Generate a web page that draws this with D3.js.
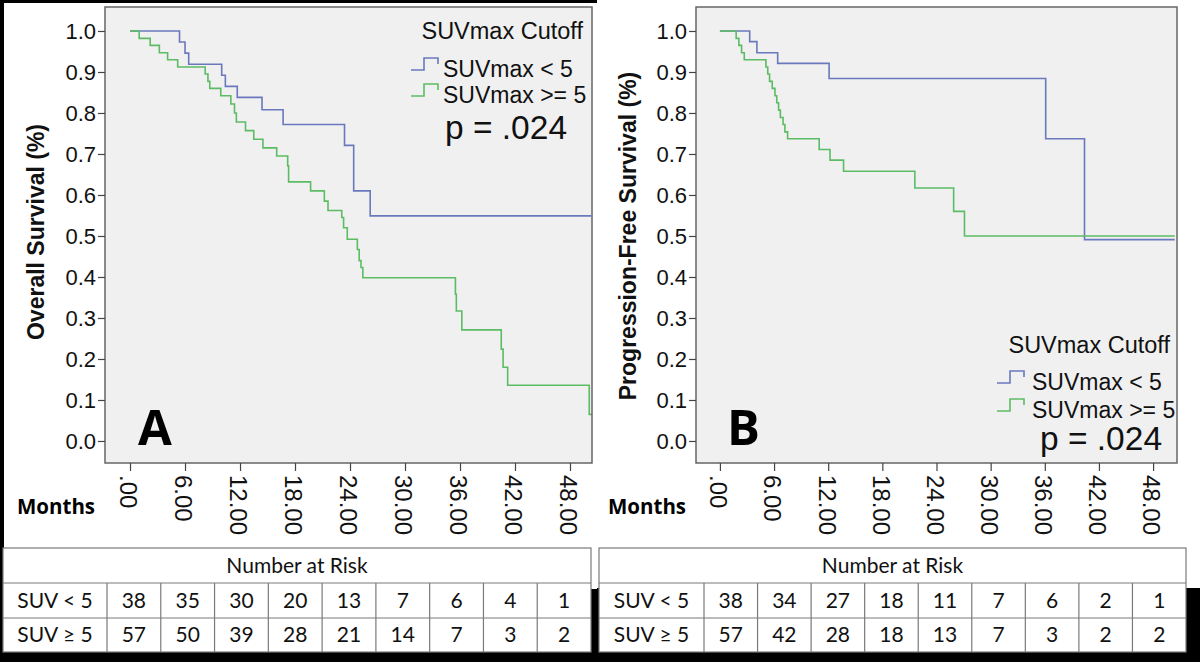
<!DOCTYPE html>
<html><head><meta charset="utf-8">
<script src="https://cdn.jsdelivr.net/npm/d3@7"></script>
<style>html,body{margin:0;padding:0;background:#000;} svg{display:block}</style>
</head><body><svg id="c" width="1200" height="662"></svg>
<script>
// ---------------- data ----------------
const tickMonths = [0, 6, 12, 18, 24, 30, 36, 42, 48];
const tickLabels = [".00", "6.00", "12.00", "18.00", "24.00", "30.00", "36.00", "42.00", "48.00"];
const yTicks = [0, 0.1, 0.2, 0.3, 0.4, 0.5, 0.6, 0.7, 0.8, 0.9, 1.0];
const yTickLabels = ["0.0", "0.1", "0.2", "0.3", "0.4", "0.5", "0.6", "0.7", "0.8", "0.9", "1.0"];
const seriesNames = ["SUVmax < 5", "SUVmax >= 5"];
const legendTitle = "SUVmax Cutoff";
const pValueText = "p = .024";

// Panel A: overall survival
const osLowTime  = [0, 5.4, 6.0, 6.4, 10.0, 10.4, 11.7, 14.4, 16.7, 23.4, 24.4, 26.2, 50.3];
const osLowSurv  = [1.0, 0.973, 0.946, 0.919, 0.892, 0.865, 0.838, 0.808, 0.772, 0.721, 0.61, 0.549, 0.549];
const osHighTime = [0, 1.0, 2.2, 3.2, 4.1, 5.2, 8.2, 8.5, 8.7, 9.9, 11.0, 11.4, 11.6, 12.6, 13.5, 14.5, 16.0, 17.2, 17.3, 19.7, 21.2, 21.6, 23.1, 23.3, 23.7, 24.8, 25.0, 25.2, 25.4, 35.5, 35.6, 36.2, 40.5, 40.7, 41.2, 50.1, 50.4];
const osHighSurv = [1.0, 0.982, 0.965, 0.947, 0.93, 0.912, 0.895, 0.877, 0.86, 0.842, 0.822, 0.80, 0.778, 0.757, 0.736, 0.715, 0.695, 0.671, 0.632, 0.61, 0.585, 0.562, 0.545, 0.52, 0.492, 0.467, 0.44, 0.423, 0.398, 0.358, 0.317, 0.271, 0.224, 0.18, 0.136, 0.065, 0.065];

// Panel B: progression-free survival
const pfsLowTime  = [0, 3.3, 4.1, 6.4, 12.1, 36.1, 40.4, 50.4];
const pfsLowSurv  = [1.0, 0.974, 0.947, 0.921, 0.884, 0.737, 0.491, 0.491];
const pfsHighTime = [0, 1.8, 2.1, 2.4, 2.7, 5.1, 5.3, 5.5, 5.8, 6.1, 6.3, 6.5, 6.7, 7.0, 7.2, 7.5, 11.0, 12.2, 13.7, 21.6, 25.9, 27.1, 50.4];
const pfsHighSurv = [1.0, 0.982, 0.965, 0.947, 0.93, 0.912, 0.895, 0.877, 0.86, 0.842, 0.825, 0.807, 0.789, 0.772, 0.754, 0.737, 0.711, 0.685, 0.658, 0.617, 0.56, 0.50, 0.50];

// Number at risk tables
const riskTitle = "Number at Risk";
const riskRowLabels = ["SUV < 5", "SUV \u2265 5"];
const osRiskLow   = [38, 35, 30, 20, 13, 7, 6, 4, 1];
const osRiskHigh  = [57, 50, 39, 28, 21, 14, 7, 3, 2];
const pfsRiskLow  = [38, 34, 27, 18, 11, 7, 6, 2, 1];
const pfsRiskHigh = [57, 42, 28, 18, 13, 7, 3, 2, 2];

// ---------------- styles ----------------
const COLORS = ["#6a78bd", "#5cbc64"];
const AXF = "'Liberation Sans', Arial, sans-serif";
const BOLDF = "'Open Sans', sans-serif";
const TABF = "Lato, 'Open Sans', sans-serif";

const svg = d3.select("#c");
svg.append("rect").attr("width", 1200).attr("height", 662).attr("fill", "#000");

const zip = (t, s) => t.map((v, i) => [v, s[i]]);

const panels = [
  {
    img: {x: 4, y: 3, w: 593, h: 586},
    plot: {l: 105, r: 592, t: 7, b: 463},
    xDom: [-2.73, 50.4], yDom: [-0.0537, 1.0585],
    yLabel: "Overall Survival (%)", yLabelX: 36, yLabelY: 232,
    letter: "A", letterX: 138, monthsX: 17,
    legend: {titleRight: 583, titleY: 39, itemX: 443, itemY: [77, 103], symX: 411, pX: 445, pY: 139},
    series: [zip(osLowTime, osLowSurv), zip(osHighTime, osHighSurv)],
    table: {x0: 3, x1: 591, labelW: 104, rows: [osRiskLow, osRiskHigh]}
  },
  {
    img: {x: 597, y: 0, w: 603, h: 588},
    plot: {l: 696, r: 1177, t: 7, b: 463},
    xDom: [-2.65, 50.65], yDom: [-0.0537, 1.0585],
    yLabel: "Progression-Free Survival (%)", yLabelX: 628, yLabelY: 236,
    letter: "B", letterX: 727, monthsX: 608,
    legend: {titleRight: 1170, titleY: 353, itemX: 1032, itemY: [390, 418], symX: 997, pX: 1040, pY: 450},
    series: [zip(pfsLowTime, pfsLowSurv), zip(pfsHighTime, pfsHighSurv)],
    table: {x0: 599, x1: 1186, labelW: 105, rows: [pfsRiskLow, pfsRiskHigh]}
  }
];

panels.forEach(P => {
  const g = svg.append("g");
  g.append("rect").attr("x", P.img.x).attr("y", P.img.y).attr("width", P.img.w).attr("height", P.img.h).attr("fill", "#fff");

  const xs = d3.scaleLinear().domain(P.xDom).range([P.plot.l, P.plot.r]);
  const ys = d3.scaleLinear().domain(P.yDom).range([P.plot.b, P.plot.t]);

  // plot background
  g.append("rect").attr("x", P.plot.l).attr("y", P.plot.t)
    .attr("width", P.plot.r - P.plot.l).attr("height", P.plot.b - P.plot.t)
    .attr("fill", "#f0f0f0");

  // curves
  const line = d3.line().x(d => xs(d[0])).y(d => ys(d[1])).curve(d3.curveStepAfter);
  P.series.forEach((s, i) => {
    g.append("path").datum(s).attr("d", line).attr("fill", "none")
      .attr("stroke", COLORS[i]).attr("stroke-width", 1.6);
  });

  // frame
  g.append("rect").attr("x", P.plot.l).attr("y", P.plot.t)
    .attr("width", P.plot.r - P.plot.l).attr("height", P.plot.b - P.plot.t)
    .attr("fill", "none").attr("stroke", "#666").attr("stroke-width", 1.5);

  // y axis
  const ya = g.append("g").attr("transform", `translate(${P.plot.l},0)`)
    .call(d3.axisLeft(ys).tickValues(yTicks).tickFormat((d, i) => yTickLabels[i]).tickSize(7).tickPadding(2));
  ya.select(".domain").remove();
  ya.selectAll("line").attr("stroke", "#444").attr("stroke-width", 1.2);
  ya.selectAll("text").attr("font-family", AXF).attr("font-size", 22).attr("fill", "#111").attr("dy", "0.36em");

  // x axis
  const xa = g.append("g").attr("transform", `translate(0,${P.plot.b})`)
    .call(d3.axisBottom(xs).tickValues(tickMonths).tickFormat((d, i) => tickLabels[i]).tickSize(8));
  xa.select(".domain").remove();
  xa.selectAll("line").attr("stroke", "#444").attr("stroke-width", 1.2);
  xa.selectAll("text").attr("font-family", AXF).attr("font-size", 24).attr("fill", "#111")
    .attr("x", 0).attr("y", 0).attr("dy", "0.42em")
    .attr("text-anchor", "start")
    .attr("transform", "translate(0,12) rotate(90)");

  // y label
  g.append("text").attr("transform", `translate(${P.yLabelX},${P.yLabelY}) rotate(-90)`)
    .attr("text-anchor", "middle").attr("dy", "0.35em")
    .attr("font-family", AXF).attr("font-weight", "bold").attr("font-size", 23).attr("fill", "#111")
    .text(P.yLabel);

  // Months
  g.append("text").attr("x", P.monthsX).attr("y", 514)
    .attr("font-family", BOLDF).attr("font-weight", "bold").attr("font-size", 20.5).attr("fill", "#000")
    .text("Months");

  // panel letter
  g.append("text").attr("x", P.letterX).attr("y", 445)
    .attr("font-family", BOLDF).attr("font-weight", "bold").attr("font-size", 49).attr("fill", "#000")
    .text(P.letter);

  // legend
  const L = P.legend;
  g.append("text").attr("x", L.titleRight).attr("y", L.titleY).attr("text-anchor", "end")
    .attr("font-family", AXF).attr("font-size", 23.5).attr("fill", "#111").text(legendTitle);
  seriesNames.forEach((name, i) => {
    const by = L.itemY[i];
    const sx = L.symX;
    g.append("path")
      .attr("d", `M${sx},${by - 7}H${sx + 13}V${by - 19}H${sx + 27}V${by - 13}`)
      .attr("fill", "none").attr("stroke", COLORS[i]).attr("stroke-width", 1.6);
    g.append("text").attr("x", L.itemX).attr("y", by)
      .attr("font-family", AXF).attr("font-size", 23).attr("fill", "#111").text(name);
  });
  g.append("text").attr("x", L.pX).attr("y", L.pY)
    .attr("font-family", AXF).attr("font-size", 33.5).attr("fill", "#111").text(pValueText);

  // table
  const T = P.table;
  const rowY = [548, 583, 618, 652];
  const tg = svg.append("g");
  tg.append("rect").attr("x", T.x0).attr("y", rowY[0]).attr("width", T.x1 - T.x0).attr("height", rowY[3] - rowY[0])
    .attr("fill", "#fff").attr("stroke", "#7a7a7a").attr("stroke-width", 1.2);
  const colX = d3.scaleLinear().domain([0, T.rows[0].length]).range([T.x0 + T.labelW, T.x1]);
  [1, 2].forEach(r => tg.append("line").attr("x1", T.x0).attr("x2", T.x1).attr("y1", rowY[r]).attr("y2", rowY[r])
    .attr("stroke", "#7a7a7a").attr("stroke-width", 1.2));
  d3.range(0, T.rows[0].length).forEach(c => tg.append("line").attr("x1", colX(c)).attr("x2", colX(c))
    .attr("y1", rowY[1]).attr("y2", rowY[3]).attr("stroke", "#7a7a7a").attr("stroke-width", 1.2));
  tg.append("text").attr("x", (T.x0 + T.x1) / 2).attr("y", (rowY[0] + rowY[1]) / 2).attr("dy", "0.35em")
    .attr("text-anchor", "middle").attr("font-family", TABF).attr("font-size", 21).attr("fill", "#111").text(riskTitle);
  T.rows.forEach((row, r) => {
    const cy = (rowY[r + 1] + rowY[r + 2]) / 2;
    tg.append("text").attr("x", T.x0 + T.labelW / 2).attr("y", cy).attr("dy", "0.35em")
      .attr("text-anchor", "middle").attr("font-family", TABF).attr("font-size", 21).attr("fill", "#111")
      .text(riskRowLabels[r]);
    tg.selectAll(null).data(row).enter().append("text")
      .attr("x", (d, c) => (colX(c) + colX(c + 1)) / 2).attr("y", cy).attr("dy", "0.35em")
      .attr("text-anchor", "middle").attr("font-family", TABF).attr("font-size", 21).attr("fill", "#111")
      .text(d => d);
  });
});
</script>
</body></html>
